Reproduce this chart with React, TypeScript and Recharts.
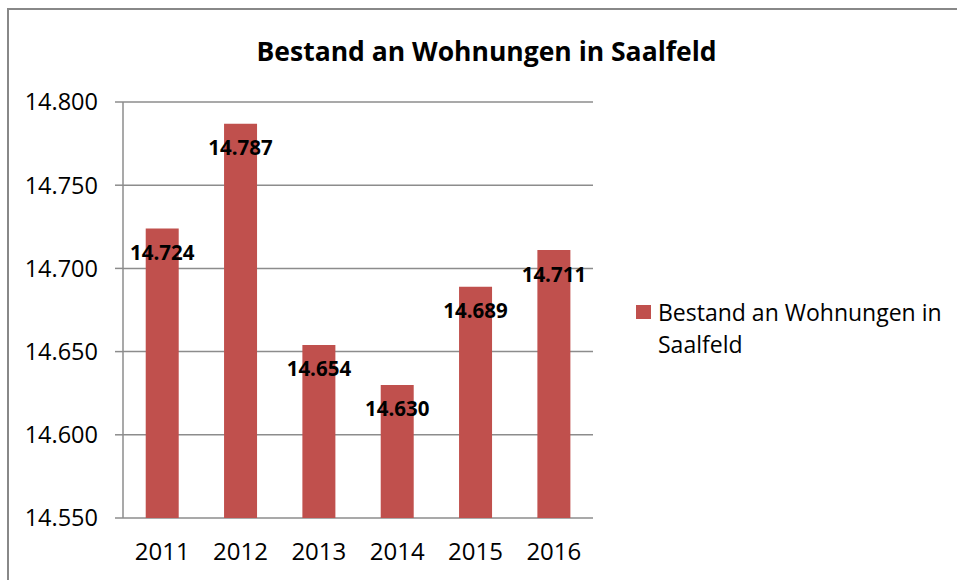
import React from 'react';
import {
  BarChart,
  Bar,
  XAxis,
  YAxis,
  CartesianGrid,
  LabelList,
} from 'recharts';

const years = ['2011', '2012', '2013', '2014', '2015', '2016'];
const bestand = [14724, 14787, 14654, 14630, 14689, 14711];
const yTicks = [14550, 14600, 14650, 14700, 14750, 14800];
const boundaryTicks = [0, 1, 2, 3, 4, 5, 6];

const seriesName = 'Bestand an Wohnungen in Saalfeld';
const barColor = '#C0504D';
const gridColor = '#8c8c8c';
const font = '"Open Sans", sans-serif';

const fmt = (v: number) => (v / 1000).toFixed(3);

const chartData = years.map((year, i) => ({ year, idx: i + 0.5, value: bestand[i] }));

const App: React.FC = () => {
  return (
    <div style={{ position: 'absolute', left: 0, top: 0, width: 957, height: 580, overflow: 'hidden', background: '#fff', fontFamily: font }}>
      <div
        style={{
          position: 'absolute',
          left: 7,
          top: 8,
          width: 1000,
          height: 700,
          borderLeft: '2px solid #888',
          borderTop: '2px solid #888',
        }}
      />
      <div
        style={{
          position: 'absolute',
          left: 0,
          top: 33,
          width: 973,
          textAlign: 'center',
          fontSize: 26.5,
          fontWeight: 700,
          lineHeight: '36px',
          color: '#000',
        }}
      >
        {seriesName}
      </div>
      <div style={{ position: 'absolute', left: 0, top: 0 }}>
        <BarChart
          width={957}
          height={580}
          data={chartData}
          margin={{ top: 102, right: 364, bottom: 12, left: 23 }}
          barCategoryGap="29%"
        >
          <CartesianGrid horizontal vertical={false} stroke={gridColor} strokeWidth={1.5} />
          <XAxis
            xAxisId="bounds"
            type="number"
            dataKey="idx"
            domain={[0, 6]}
            ticks={boundaryTicks}
            height={0}
            tickSize={8}
            stroke={gridColor}
            strokeWidth={1.5}
            tickFormatter={() => ''}
          />
          <XAxis
            xAxisId="cat"
            dataKey="year"
            height={50}
            axisLine={false}
            tickLine={false}
            tickMargin={19}
            tick={{ fill: '#000', fontSize: 24, fontFamily: font }}
          />
          <YAxis
            width={100}
            domain={[14550, 14800]}
            ticks={yTicks}
            tickSize={8}
            tickMargin={17}
            stroke={gridColor}
            strokeWidth={1.5}
            tickFormatter={fmt}
            tick={{ fill: '#000', fontSize: 23.5, fontFamily: font }}
          />
          <Bar xAxisId="cat" dataKey="value" fill={barColor} isAnimationActive={false}>
            <LabelList
              dataKey="value"
              position="insideTop"
              offset={17}
              formatter={(v: any) => fmt(Number(v))}
              style={{ fill: '#000', fontSize: 20.5, fontWeight: 700, fontFamily: font }}
            />
          </Bar>
        </BarChart>
      </div>
      <div style={{ position: 'absolute', left: 636, top: 296, width: 320, fontSize: 23, lineHeight: '32px', color: '#000' }}>
        <span style={{ position: 'absolute', left: 0, top: 9, width: 15, height: 14, background: barColor }} />
        <div style={{ marginLeft: 22 }}>{seriesName}</div>
      </div>
    </div>
  );
};

export default App;
